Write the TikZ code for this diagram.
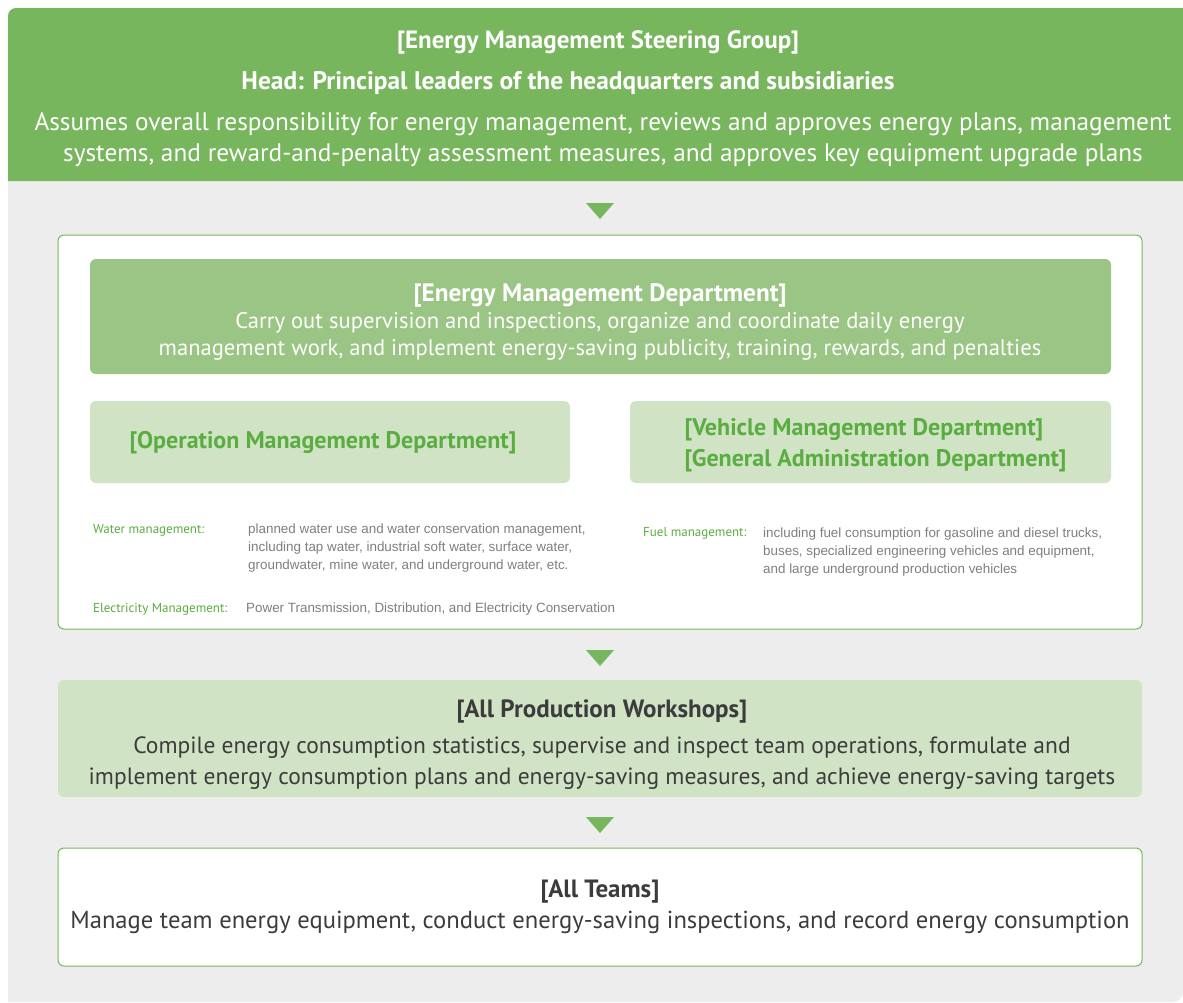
\documentclass[tikz,border=0pt]{standalone}
\usepackage{fontspec}
\setmainfont{PT Sans}
\newfontfamily\smallfont{Liberation Sans}
\usetikzlibrary{positioning}

\definecolor{leafgreen}{HTML}{77B65D}
\definecolor{midgreen}{HTML}{9BC584}
\definecolor{palegreen}{HTML}{D0E3C5}
\definecolor{labelgreen}{HTML}{5AAD40}
\definecolor{panelgray}{HTML}{EDEDED}
\definecolor{inkgray}{HTML}{3C3C3C}
\definecolor{notegray}{HTML}{7F7F7F}

\begin{document}
\begin{tikzpicture}[x=1pt,y=-1pt,
  box/.style={rounded corners=6pt,inner sep=0pt,align=center},
  deptbox/.style={box,fill=palegreen,minimum height=82pt},
  depttext/.style={text=labelgreen,align=left,font=\bfseries\fontsize{24}{31}\selectfont},
  framebox/.style={box,draw=leafgreen,line width=1pt,fill=white,minimum width=1084pt},
  tag/.style={anchor=west,inner sep=0pt,text=labelgreen,font=\fontsize{13}{18}\selectfont},
  note/.style={anchor=north west,inner sep=0pt,align=left,text=notegray,
    font=\smallfont\fontsize{13.4}{18}\selectfont},
  pointer/.style={fill=leafgreen}]
\useasboundingbox (0,0) rectangle (1183,1002);

% background panel and header band
\fill[panelgray] (8,100) -- (8,1002) [rounded corners=10pt] -- (1183,1002) [sharp corners] -- (1183,100) -- cycle;
\fill[leafgreen] (8,181) [rounded corners=8pt] -- (8,8) [sharp corners] -- (1183,8) -- (1183,181) -- cycle;

\node[text=white,font=\bfseries\fontsize{25}{30}\selectfont] (steer) at (598,42) {[Energy Management Steering Group]};
\node[text=white,font=\bfseries\fontsize{25.4}{30}\selectfont] (head) at (568,83) {Head: Principal leaders of the headquarters and subsidiaries};
\node[text=white,align=center,font=\fontsize{25.3}{31}\selectfont] (duty) at (603,139.5)
  {Assumes overall responsibility for energy management, reviews and approves energy plans, management\\
   systems, and reward-and-penalty assessment measures, and approves key equipment upgrade plans};

% energy management frame
\node[framebox,minimum height=394pt] (mgmt) at (600,432) {};
\node[box,fill=midgreen,minimum width=1021pt,minimum height=115pt] (emd) at (600.5,316.5) {};
\node[text=white,align=center,font=\fontsize{22.6}{27}\selectfont] (emdtext) at (600,322)
  {{\bfseries\fontsize{25.2}{27}\selectfont [Energy Management Department]}\\
   Carry out supervision and inspections, organize and coordinate daily energy\\
   management work, and implement energy-saving publicity, training, rewards, and penalties};
\node[deptbox,minimum width=480pt] (omd) at (330,442) {};
\node[depttext] (omdtext) at (323,443) {[Operation Management Department]};
\node[deptbox,minimum width=481pt] (vmd) at (870.5,442) {};
\node[depttext] (vmdtext) at (875.5,445) {[Vehicle Management Department]\\\relax
  [General Administration Department]};

\node[tag] (water) at (93,530) {Water management:};
\node[note] (waternote) at (248,524) {planned water use and water conservation management,\\
  including tap water, industrial soft water, surface water,\\
  groundwater, mine water, and underground water, etc.};
\node[tag] (power) at (93,609) {Electricity Management:};
\node[note,anchor=west] (powernote) at (246,609) {Power Transmission, Distribution, and Electricity Conservation};
\node[tag] (fuel) at (643,533) {Fuel management:};
\node[note] (fuelnote) at (763,528) {including fuel consumption for gasoline and diesel trucks,\\
  buses, specialized engineering vehicles and equipment,\\
  and large underground production vehicles};

% workshops and teams
\node[box,fill=palegreen,minimum width=1084pt,minimum height=117pt] (shop) at (600,738.5) {};
\node[text=inkgray,align=center,font=\fontsize{23.5}{31}\selectfont] (shoptext) at (602,745)
  {{\bfseries\fontsize{25}{31}\selectfont [All Production Workshops]}\\[5pt]
   Compile energy consumption statistics, supervise and inspect team operations, formulate and\\
   implement energy consumption plans and energy-saving measures, and achieve energy-saving targets};
\node[framebox,text=inkgray,minimum height=118pt,font=\fontsize{24.6}{31}\selectfont] (team) at (600,907)
  {{\bfseries\fontsize{25}{31}\selectfont [All Teams]}\\
   Manage team energy equipment, conduct energy-saving inspections, and record energy consumption};

\foreach \y in {203,650,817}
  \fill[pointer] (586,\y) -- (614,\y) -- (600,\y+16) -- cycle;
\end{tikzpicture}
\end{document}
